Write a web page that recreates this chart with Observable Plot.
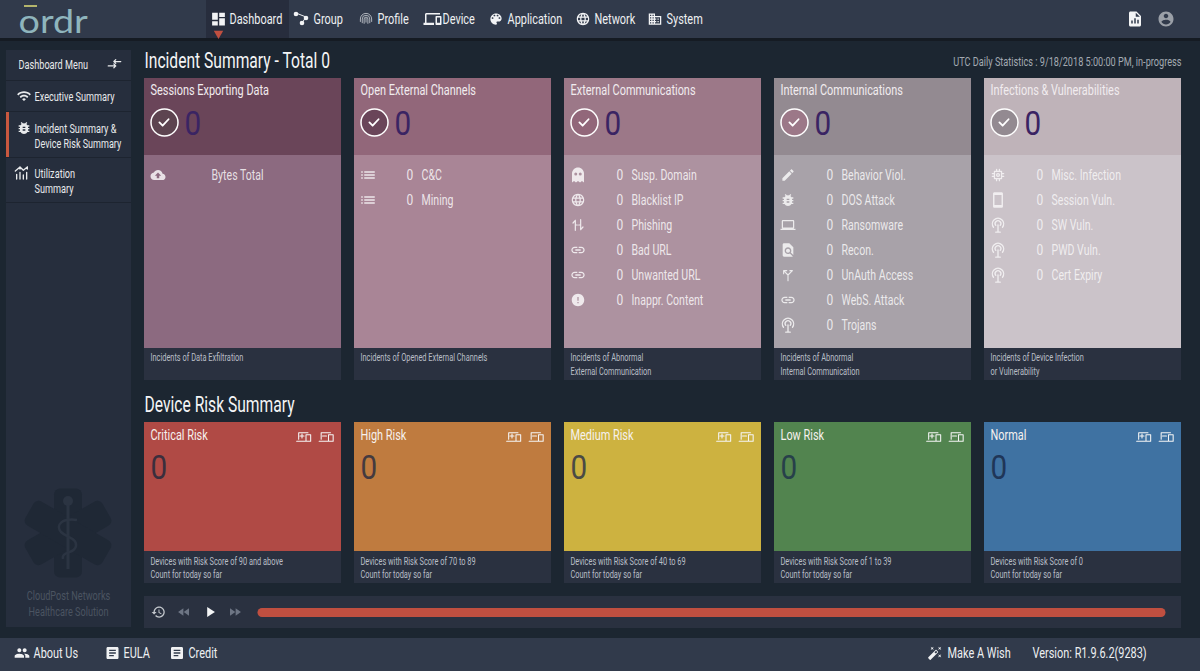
<!DOCTYPE html>
<html>
<head>
<meta charset="utf-8">
<script src="https://cdn.jsdelivr.net/npm/d3@7"></script>
<script src="https://cdn.jsdelivr.net/npm/@observablehq/plot@0.6"></script>
<style>
html,body{margin:0;padding:0;background:#1c2631;overflow:hidden}
svg{display:block}
</style>
</head>
<body>
<div id="chart"></div>
<script>
// ---------- values ----------
const pageTitle = "Incident Summary - Total 0";
const riskTitle = "Device Risk Summary";
const statusText = "UTC Daily Statistics : 9/18/2018 5:00:00 PM, in-progress";
const logoText = "ordr";
const navItems = ["Dashboard","Group","Profile","Device","Application","Network","System"];
const sideItems = [["Executive Summary"],["Incident Summary &","Device Risk Summary"],["Utilization","Summary"]];
const sideTitle = "Dashboard Menu";
const brandLines = ["CloudPost Networks","Healthcare Solution"];
const footerLeft = ["About Us","EULA","Credit"];
const footerRight = ["Make A Wish","Version: R1.9.6.2(9283)"];

const incidentTitles = ["Sessions Exporting Data","Open External Channels","External Communications","Internal Communications","Infections & Vulnerabilities"];
const incidentTotals = [0,0,0,0,0];
const incidentLabels = [
  ["Bytes Total"],
  ["C&C","Mining"],
  ["Susp. Domain","Blacklist IP","Phishing","Bad URL","Unwanted URL","Inappr. Content"],
  ["Behavior Viol.","DOS Attack","Ransomware","Recon.","UnAuth Access","WebS. Attack","Trojans"],
  ["Misc. Infection","Session Vuln.","SW Vuln.","PWD Vuln.","Cert Expiry"]
];
const incidentCounts = [[null],[0,0],[0,0,0,0,0,0],[0,0,0,0,0,0,0],[0,0,0,0,0]];
const incidentNotes = [["Incidents of Data Exfiltration"],["Incidents of Opened External Channels"],["Incidents of Abnormal","External Communication"],["Incidents of Abnormal","Internal Communication"],["Incidents of Device Infection","or Vulnerability"]];

const riskTitles = ["Critical Risk","High Risk","Medium Risk","Low Risk","Normal"];
const riskCounts = [0,0,0,0,0];
const riskNotes = [
  ["Devices with Risk Score of 90 and above","Count for today so far"],
  ["Devices with Risk Score of 70 to 89","Count for today so far"],
  ["Devices with Risk Score of 40 to 69","Count for today so far"],
  ["Devices with Risk Score of 1 to 39","Count for today so far"],
  ["Devices with Risk Score of 0","Count for today so far"]
];

// ---------- styles ----------
const FONT = 'Roboto,"Liberation Sans",sans-serif';
const C = {bg:"#1c2631",nav:"#313a4b",navDark:"#272d3d",line:"#151b23",panel:"#262e3d",foot:"#2a3140",
  sep:"#1d2430",accent:"#c9583f",bar:"#c04f40",note:"#b9bec6",brand:"#4b5461",status:"#a3aab2",zero:"#3a2463",logo:"#8fb5bd",logoBar:"#b4b56c"};
const headFill = ["#6a4559","#92677a","#9c7888","#938a91","#bfb3b9"];
const bodyFill = ["#8c6a80","#a98596","#ad92a0","#a8a2a9","#cbc3c9"];
const ringFill = ["#5d4450","#6a4559","#92677a","#9c7888","#938a91"];
const riskFill = ["#b04a45","#bf7b3f","#cdb240","#52844f","#3f72a2"];
const riskZero = ["#3b2e3d","#443a3f","#4a4a45","#27404a","#1f3658"];

// ---------- layout (pixels of the identity scales) ----------
const W = 1200, H = 671;
const cardX = i => 144 + 210*i, cardW = 197;
const Y = {head:78,body:155,foot:348,end:380,riskTop:422,riskFoot:551,riskEnd:583};
const NARROW = 0.705, NARROW_HEAD = 0.695, LOGO_WIDE = 1.18, ZERO_BIG = 0.9, ZERO_ROW = 0.8;

const ICON = {
  dashboard:"M3 13h8V3H3v10zm0 8h8v-6H3v6zm10 0h8V11h-8v10zm0-18v6h8V3h-8z",
  devices:"M4 6h18V4H4c-1.1 0-2 .9-2 2v11H0v3h14v-3H4V6zm19 2h-6c-.55 0-1 .45-1 1v10c0 .55.45 1 1 1h6c.55 0 1-.45 1-1V9c0-.55-.45-1-1-1zm-1 9h-4v-7h4v7z",
  palette:"M12 3c-4.97 0-9 4.03-9 9s4.03 9 9 9c.83 0 1.5-.67 1.5-1.5 0-.39-.15-.74-.39-1.01-.23-.26-.38-.61-.38-.99 0-.83.67-1.5 1.5-1.5H16c2.76 0 5-2.24 5-5 0-4.42-4.03-8-9-8zm-5.5 9c-.83 0-1.5-.67-1.5-1.5S5.67 9 6.5 9 8 9.67 8 10.5 7.33 12 6.5 12zm3-4C8.67 8 8 7.33 8 6.5S8.67 5 9.5 5s1.5.67 1.5 1.5S10.33 8 9.5 8zm5 0c-.83 0-1.5-.67-1.5-1.5S13.67 5 14.5 5s1.5.67 1.5 1.5S15.33 8 14.5 8zm3 4c-.83 0-1.5-.67-1.5-1.5S16.67 9 17.5 9s1.5.67 1.5 1.5-.67 1.5-1.5 1.5z",
  globe:"M11.99 2C6.47 2 2 6.48 2 12s4.47 10 9.99 10C17.52 22 22 17.52 22 12S17.52 2 11.99 2zm6.93 6h-2.95c-.32-1.25-.78-2.45-1.38-3.56 1.84.63 3.37 1.91 4.33 3.56zM12 4.04c.83 1.2 1.48 2.53 1.91 3.96h-3.82c.43-1.43 1.08-2.76 1.91-3.96zM4.26 14C4.1 13.36 4 12.69 4 12s.1-1.36.26-2h3.38c-.08.66-.14 1.32-.14 2 0 .68.06 1.34.14 2H4.26zm.82 2h2.95c.32 1.25.78 2.45 1.38 3.56-1.84-.63-3.37-1.9-4.33-3.56zm2.95-8H5.08c.96-1.66 2.49-2.93 4.33-3.56C8.81 5.55 8.35 6.75 8.03 8zM12 19.96c-.83-1.2-1.48-2.53-1.91-3.96h3.82c-.43 1.43-1.08 2.76-1.91 3.96zM14.34 14H9.66c-.09-.66-.16-1.32-.16-2 0-.68.07-1.35.16-2h4.68c.09.65.16 1.32.16 2 0 .68-.07 1.34-.16 2zm.25 5.56c.6-1.11 1.06-2.31 1.38-3.56h2.95c-.96 1.65-2.49 2.93-4.33 3.56zM16.36 14c.08-.66.14-1.32.14-2 0-.68-.06-1.34-.14-2h3.38c.16.64.26 1.31.26 2s-.1 1.36-.26 2h-3.38z",
  domain:"M12 7V3H2v18h20V7H12zM6 19H4v-2h2v2zm0-4H4v-2h2v2zm0-4H4V9h2v2zm0-4H4V5h2v2zm4 12H8v-2h2v2zm0-4H8v-2h2v2zm0-4H8V9h2v2zm0-4H8V5h2v2zm10 12h-8v-2h2v-2h-2v-2h2v-2h-2V9h8v10zm-2-8h-2v2h2v-2zm0 4h-2v2h2v-2z",
  file:"M14 2H6c-1.1 0-2 .9-2 2v16c0 1.1.9 2 2 2h12c1.1 0 2-.9 2-2V8l-6-6zM9 18H7v-4h2v4zm4 0h-2v-7h2v7zm4 0h-2v-5h2v5zM13 9V3.5L18.5 9H13z",
  account:"M12 2C6.48 2 2 6.48 2 12s4.48 10 10 10 10-4.48 10-10S17.52 2 12 2zm0 3c1.66 0 3 1.34 3 3s-1.34 3-3 3-3-1.34-3-3 1.34-3 3-3zm0 14.2c-2.5 0-4.71-1.28-6-3.22.03-1.99 4-3.08 6-3.08 1.99 0 5.97 1.09 6 3.08-1.29 1.94-3.5 3.22-6 3.22z",
  wifi:"M1 9l2 2c4.97-4.97 13.03-4.97 18 0l2-2C16.93 2.93 7.08 2.93 1 9zm8 8l3 3 3-3c-1.65-1.66-4.34-1.66-6 0zm-4-4l2 2c2.76-2.76 7.24-2.76 10 0l2-2C15.14 9.14 8.87 9.14 5 13z",
  bug:"M20 8h-2.81c-.45-.78-1.07-1.45-1.82-1.96L17 4.41 15.59 3l-2.17 2.17C12.96 5.06 12.49 5 12 5c-.49 0-.96.06-1.41.17L8.41 3 7 4.41l1.62 1.63C7.88 6.55 7.26 7.22 6.81 8H4v2h2.09c-.05.33-.09.66-.09 1v1H4v2h2v1c0 .34.04.67.09 1H4v2h2.81c1.04 1.79 2.97 3 5.19 3s4.15-1.21 5.19-3H20v-2h-2.09c.05-.33.09-.66.09-1v-1h2v-2h-2v-1c0-.34-.04-.67-.09-1H20V8zm-6 8h-4v-2h4v2zm0-4h-4v-2h4v2z",
  cloud:"M19.35 10.04C18.67 6.59 15.64 4 12 4 9.11 4 6.6 5.64 5.35 8.04 2.34 8.36 0 10.91 0 14c0 3.31 2.69 6 6 6h13c2.76 0 5-2.24 5-5 0-2.64-2.05-4.78-4.65-4.96zM14 13v4h-4v-4H7l5-5 5 5h-3z",
  list:"M3 13h2v-2H3v2zm0 4h2v-2H3v2zm0-8h2V7H3v2zm4 4h14v-2H7v2zm0 4h14v-2H7v2zM7 7v2h14V7H7z",
  link:"M3.9 12c0-1.71 1.39-3.1 3.1-3.1h4V7H7c-2.76 0-5 2.24-5 5s2.24 5 5 5h4v-1.9H7c-1.71 0-3.1-1.39-3.1-3.1zM8 13h8v-2H8v2zm9-6h-4v1.9h4c1.71 0 3.1 1.39 3.1 3.1s-1.39 3.1-3.1 3.1h-4V17h4c2.76 0 5-2.24 5-5s-2.24-5-5-5z",
  error:"M12 2C6.48 2 2 6.48 2 12s4.48 10 10 10 10-4.48 10-10S17.52 2 12 2zm1 15h-2v-2h2v2zm0-4h-2V7h2v6z",
  edit:"M3 17.25V21h3.75L17.81 9.94l-3.75-3.75L3 17.25zM20.71 7.04c.39-.39.39-1.02 0-1.41l-2.34-2.34c-.39-.39-1.02-.39-1.41 0l-1.83 1.83 3.75 3.75 1.83-1.83z",
  laptop:"M20 18c1.1 0 1.99-.9 1.99-2L22 6c0-1.1-.9-2-2-2H4c-1.1 0-2 .9-2 2v10c0 1.1.9 2 2 2H0v2h24v-2h-4zM4 6h16v10H4V6z",
  find:"M20 19.59V8l-6-6H6c-1.1 0-1.99.9-1.99 2L4 20c0 1.1.89 2 1.99 2H18c.45 0 .85-.15 1.19-.4l-4.43-4.43c-.8.52-1.74.83-2.76.83-2.76 0-5-2.24-5-5s2.24-5 5-5 5 2.24 5 5c0 1.02-.31 1.96-.83 2.75L20 19.59zM9 13c0 1.66 1.34 3 3 3s3-1.34 3-3-1.34-3-3-3-3 1.34-3 3z",
  phone:"M17 1.01L7 1c-1.1 0-2 .9-2 2v18c0 1.1.9 2 2 2h10c1.1 0 2-.9 2-2V3c0-1.1-.9-1.99-2-1.99zM17 19H7V5h10v14z",
  people:"M16 11c1.66 0 2.99-1.34 2.99-3S17.66 5 16 5c-1.66 0-3 1.34-3 3s1.34 3 3 3zm-8 0c1.66 0 2.99-1.34 2.99-3S9.66 5 8 5C6.34 5 5 6.34 5 8s1.34 3 3 3zm0 2c-2.33 0-7 1.17-7 3.5V19h14v-2.5c0-2.33-4.67-3.5-7-3.5zm8 0c-.29 0-.62.02-.97.05 1.16.84 1.97 1.97 1.97 3.45V19h6v-2.5c0-2.33-4.67-3.5-7-3.5z",
  doc:"M19 3H5c-1.1 0-2 .9-2 2v14c0 1.1.9 2 2 2h14c1.1 0 2-.9 2-2V5c0-1.1-.9-2-2-2zm-5 14H7v-2h7v2zm3-4H7v-2h10v2zm0-4H7V7h10v2z",
  wand:"M7.5 5.6L10 7 8.6 4.5 10 2 7.5 3.4 5 2l1.4 2.5L5 7zm12 9.8L17 14l1.4 2.5L17 19l2.5-1.4L22 19l-1.4-2.5L22 14zM22 2l-2.5 1.4L17 2l1.4 2.5L17 7l2.5-1.4L22 7l-1.4-2.5zm-7.63 5.29c-.39-.39-1.02-.39-1.41 0L1.29 18.96c-.39.39-.39 1.02 0 1.41l2.34 2.34c.39.39 1.02.39 1.41 0L16.7 11.05c.39-.39.39-1.02 0-1.41l-2.33-2.35zm-1.03 5.49l-2.12-2.12 2.44-2.44 2.12 2.12-2.44 2.44z",
  play:"M8 5v14l11-7z",
  rewind:"M11 18V6l-8.5 6 8.5 6zm.5-6l8.5 6V6l-8.5 6z",
  forward:"M4 18l8.5-6L4 6v12zm9-12v12l8.5-6L13 6z",
  history:"M13 3c-4.97 0-9 4.03-9 9H1l3.89 3.89.07.14L9 12H6c0-3.87 3.13-7 7-7s7 3.13 7 7-3.13 7-7 7c-1.93 0-3.68-.79-4.94-2.06l-1.42 1.42C8.27 19.99 10.51 21 13 21c4.97 0 9-4.03 9-9s-4.03-9-9-9zm-1 5v5l4.28 2.54.72-1.21-3.5-2.08V8H12z",
  ghost:"M12 2C7.6 2 4 5.6 4 10v12l2.7-2 2.6 2 2.7-2 2.7 2 2.6-2 2.7 2V10c0-4.4-3.6-8-8-8zM9 8.500a2 2 0 1 0 0 4 2 2 0 0 0 0-4zm6 0a2 2 0 1 0 0 4 2 2 0 0 0 0-4z"
};
const STROKE = {
  check:"M7 12.500l3.500 3.500L17 9",
  tether:"M9 12.500a3.800 3.800 0 1 1 6 0M6 15a7.500 7.500 0 1 1 12 0M12 12v9M9 21.500h6",
  phish:"M8 20V5M8 5L4.500 9M16 4v15M16 19l3.500-4M8 12h3M16 12h-3",
  unauth:"M12 21v-9M12 12L5 5M12 12l7-7M5 5v5M5 5h5M19 5h-4",
  chip:"M7 7h10v10H7zM10 4v3M14 4v3M10 17v3M14 17v3M4 10h3M4 14h3M17 10h3M17 14h3M12 10a2 2 0 1 0 0 4 2 2 0 0 0 0-4",
  finger:"M12 11v6M9 19v-7a3 3 0 0 1 6 0v7M6 18v-6a6 6 0 0 1 12 0v6M3 16v-4a9 9 0 0 1 18 0v4",
  group:"M5.600 2.400L21.600 8.800L15.200 18.400",
  util:"M4 21v-7M9 21V11M14 21v-6M19 21V11M2 9l7-6 5 5 6-5M9 3v3M20 3v3",
  swap:"M2 15h12M14 15l-3-3M14 15l-3 3M22 8H11M11 8l3-3M11 8l3 3",
  add:"M4 7h14M4 7v10M1 20h14M15 10h7v10h-7zM9 9v6M6 12h6",
  sub:"M4 7h14M4 7v10M1 20h14M15 10h7v10h-7zM6 12h6"
};
const ICON_SIZE = {cloud:15,globe:15,list:18,ghost:18,tether:18,link:16,error:15,edit:15,bug:16,laptop:15,find:16,unauth:15,chip:17,phone:17,phish:16};

// ---------- derived rows ----------
const rects = [], dots = [], icons = [], T = {card:[],zero:[],rowVal:[],rowLab:[],note:[],nav:[],side:[],foot:[],brand:[]};
const rect = (x1,y1,x2,y2,fill) => rects.push({x1,y1,x2,y2,fill});
const icon = (name,x,y,size,fill,opacity=1,sw=2) => icons.push({name,x,y,size,fill,opacity,sw});

// chrome
rect(0,0,W,38,C.nav); rect(0,38,W,41,C.line);
rect(206,0,289,38,C.navDark);
rect(0,638,W,H,C.nav);
rect(6,50,131,627,C.panel);
rect(6,80,131,81,C.sep); rect(6,111,131,112,C.sep); rect(6,157,131,158,C.sep); rect(6,202,131,203,C.sep);
rect(6,112,9,157,C.accent);
rect(144,596,1181,628,C.foot);

// nav
const navLayout = [[218.500,229,"dashboard",17],[300,313,"group",15],[366,377,"finger",15],[432.500,442,"devices",18],[496,507,"palette",15],[583,594,"globe",15],[655,666,"domain",15]];
navItems.forEach((t,i)=>{const n=navLayout[i];T.nav.push({x:n[1],y:19,t});icon(n[2],n[0],19,n[3],i===2?"#aeb3bb":"#f2f3f5",1,1.6);});
icon("file",1135,19,18,"#f4f5f6"); icon("account",1166,19,18,"#9a9fa7");

// sidebar
T.side.push({x:18,y:64,t:sideTitle});
icon("swap",114.500,64,15,"#e8eaec",1,2);
const sideY=[[96],[128,143],[173,188]], sideIcon=["wifi","bug","util"], sideIconY=[96,128,173];
sideItems.forEach((ls,i)=>{ls.forEach((t,j)=>T.side.push({x:34,y:sideY[i][j],t}));icon(sideIcon[i],i===2?22:24,sideIconY[i],i===0?15:16,"#e8eaec");});
brandLines.forEach((t,i)=>T.brand.push({x:68,y:595+16*i,t}));

// incident cards
const rowIcons=[["cloud"],["list","list"],["ghost","globe","phish","link","link","error"],["edit","bug","laptop","find","unauth","link","tether"],["chip","phone","tether","tether","tether"]];
const rowOpacity=[.8,.8,.8,.78,.72];
incidentTitles.forEach((t,i)=>{
  const x=cardX(i);
  rect(x,Y.head,x+cardW,Y.body,headFill[i]);
  rect(x,Y.body,x+cardW,Y.foot,bodyFill[i]);
  rect(x,Y.foot,x+cardW,Y.end,C.foot);
  T.card.push({x:x+6,y:90,t,fill:"#f1ecef"});
  dots.push({x:x+20,y:122,fill:ringFill[i]});
  icon("check",x+20,122,22,"#fff",1,2);
  T.zero.push({x:x+40,y:124,t:String(incidentTotals[i]),fill:C.zero});
  incidentLabels[i].forEach((lab,j)=>{
    const y=175+25*j;
    T.rowLab.push({x:x+67,y,t:lab,o:rowOpacity[i]});
    if(incidentCounts[i][j]!==null) T.rowVal.push({x:x+52,y,t:String(incidentCounts[i][j]),o:rowOpacity[i]});
    const nm=rowIcons[i][j];
    icon(nm,x+14,y,ICON_SIZE[nm],"#fff",rowOpacity[i],1.8);
  });
  incidentNotes[i].forEach((n,j)=>T.note.push({x:x+6,y:357.500+13.500*j,t:n}));
});

// risk cards
riskTitles.forEach((t,i)=>{
  const x=cardX(i);
  rect(x,Y.riskTop,x+cardW,Y.riskFoot,riskFill[i]);
  rect(x,Y.riskFoot,x+cardW,Y.riskEnd,C.foot);
  T.card.push({x:x+6,y:435,t,fill:"#f6f1ee"});
  T.zero.push({x:x+6,y:468,t:String(riskCounts[i]),fill:riskZero[i]});
  icon("add",x+160,436,16,"#f5f5f5",1,1.6);
  icon("sub",x+182.500,436,16,"#f5f5f5",1,1.6);
  riskNotes[i].forEach((n,j)=>T.note.push({x:x+6,y:561+13.500*j,t:n}));
});

// player
icon("history",158.500,612,15,"#c4c8cd");
icon("rewind",184,612,15,"#6d7584");
icon("play",210,612,17,"#f4f5f6");
icon("forward",235,612,15,"#6d7584");
const track=[{x1:262,x2:1161,y:612}];

// footer
const footX=[33,123,188], footIcon=["people","doc","doc"], footIconX=[22,112.500,177];
footerLeft.forEach((t,i)=>{T.foot.push({x:footX[i],y:653,t});icon(footIcon[i],footIconX[i],653,16,"#f0f1f3");});
T.foot.push({x:947,y:653,t:footerRight[0]},{x:1032,y:653,t:footerRight[1]});
icon("wand",935,653,15,"#f0f1f3");

// ---------- marks ----------
const text = (rows,o) => Plot.text(rows,{x:"x",y:"y",text:"t",textAnchor:"start",lineAnchor:"middle",...o});

// vector icons drawn at positions resolved through the plot's scales
const iconMark = (index,{x,y}) => {
  const g = d3.create("svg:g");
  for (const d of icons) {
    const s = d.size/24, path = g.append("path")
      .attr("transform",`translate(${x(d.x)-d.size/2},${y(d.y)-d.size/2}) scale(${s})`)
      .attr("opacity",d.opacity);
    if (STROKE[d.name]) path.attr("d",STROKE[d.name]).attr("fill","none").attr("stroke",d.fill).attr("stroke-width",d.sw).attr("stroke-linecap","round").attr("stroke-linejoin","round");
    else path.attr("d",ICON[d.name]).attr("fill",d.fill).attr("fill-rule",d.name==="ghost"?"evenodd":"nonzero");
  }
  for (const [cx,cy,r] of [[296,14,2.300],[306,18,2.300],[302,23,2.300]])
    g.append("circle").attr("cx",x(cx)).attr("cy",y(cy)).attr("r",r).attr("fill","#f2f3f5");
  return g.node();
};

// watermark star of life, drawn through the scales
const starMark = (index,{x,y}) => {
  const g = d3.create("svg:g").attr("transform",`translate(${x(68)},${y(533)})`);
  [0,60,120].forEach(a=>g.append("rect").attr("x",-14).attr("y",-44.500).attr("width",28).attr("height",89).attr("rx",6).attr("fill","#1f2835").attr("transform",`rotate(${a})`));
  g.append("path").attr("d","M0 -28V36").attr("stroke","#2b3442").attr("stroke-width",3).attr("fill","none");
  g.append("circle").attr("cy",-32).attr("r",5).attr("fill","#2b3442");
  g.append("path").attr("d","M9 -13C-6 -15 -13 -8 -7 -1C-1 5 9 5 8 13C7 21 -7 18 -5 26").attr("stroke","#2b3442").attr("stroke-width",2.500).attr("fill","none");
  return g.node();
};

const logoRows=[{x:18,y:22,t:logoText}];
const triangle=[{x:218,y:33}];

const chart = Plot.plot({
  width:W,height:H,margin:0,
  x:{domain:[0,W],range:[0,W],axis:null},
  y:{domain:[0,H],range:[0,H],axis:null},
  color:{type:"identity"},
  style:{background:C.bg,fontFamily:FONT,overflow:"hidden"},
  marks:[
    Plot.rect(rects,{x1:"x1",x2:"x2",y1:"y1",y2:"y2",fill:"fill"}),
    Plot.dot(triangle,{x:"x",y:"y",symbol:"triangle",r:3.500,fill:C.bar,rotate:180}),
    starMark,
    Plot.dot(dots,{x:"x",y:"y",r:13.500,fill:"fill",stroke:"#fff",strokeWidth:1.500}),
    Plot.ruleY(track,{x1:"x1",x2:"x2",y:"y",stroke:C.bar,strokeWidth:9,strokeLinecap:"round"}),
    iconMark,
    text(logoRows,{fontFamily:'Lato,"Open Sans",sans-serif',fontWeight:400,fontSize:32,fill:C.logo}),
    Plot.rect([{x1:24,x2:37,y1:5,y2:7}],{x1:"x1",x2:"x2",y1:"y1",y2:"y2",fill:C.logoBar}),
    text([{x:144,y:60,t:pageTitle}],{fontSize:22.500,fill:"#f4f5f6"}),
    text([{x:144,y:404,t:riskTitle}],{fontSize:22.500,fill:"#f4f5f6"}),
    text([{x:1181,y:61,t:statusText}],{fontSize:13,fill:C.status,textAnchor:"end"}),
    text(T.nav,{fontSize:15.500,fill:"#eef0f2"}),
    text(T.side,{fontSize:13,fill:"#e8eaec"}),
    text(T.brand,{fontSize:13,fill:C.brand,textAnchor:"middle"}),
    text(T.card,{fontSize:15.500,fill:"fill"}),
    text(T.zero,{fontSize:33,fill:"fill",fontWeight:400}),
    text(T.rowVal,{fontSize:15,fill:"#fff",fillOpacity:"o"}),
    text(T.rowLab,{fontSize:15,fill:"#fff",fillOpacity:"o"}),
    text(T.note,{fontSize:10.500,fill:C.note}),
    text(T.foot,{fontSize:15.500,fill:"#eef0f2"})
  ]
});

// condense the installed font horizontally to match the reference's narrow face
const zeroBig = new Set(T.zero.map(d=>d.t));
chart.querySelectorAll("text").forEach(el => {
  const s = el.textContent;
  const size = parseFloat(el.closest("g").getAttribute("font-size"));
  let k = NARROW;
  if (s === logoText) k = LOGO_WIDE;
  else if (s === pageTitle || s === riskTitle) k = NARROW_HEAD;
  else if (zeroBig.has(s)) k = size > 30 ? ZERO_BIG : ZERO_ROW;
  el.setAttribute("transform",`${el.getAttribute("transform")||""} scale(${k},1)`);
});
document.getElementById("chart").append(chart);
</script>
</body>
</html>
